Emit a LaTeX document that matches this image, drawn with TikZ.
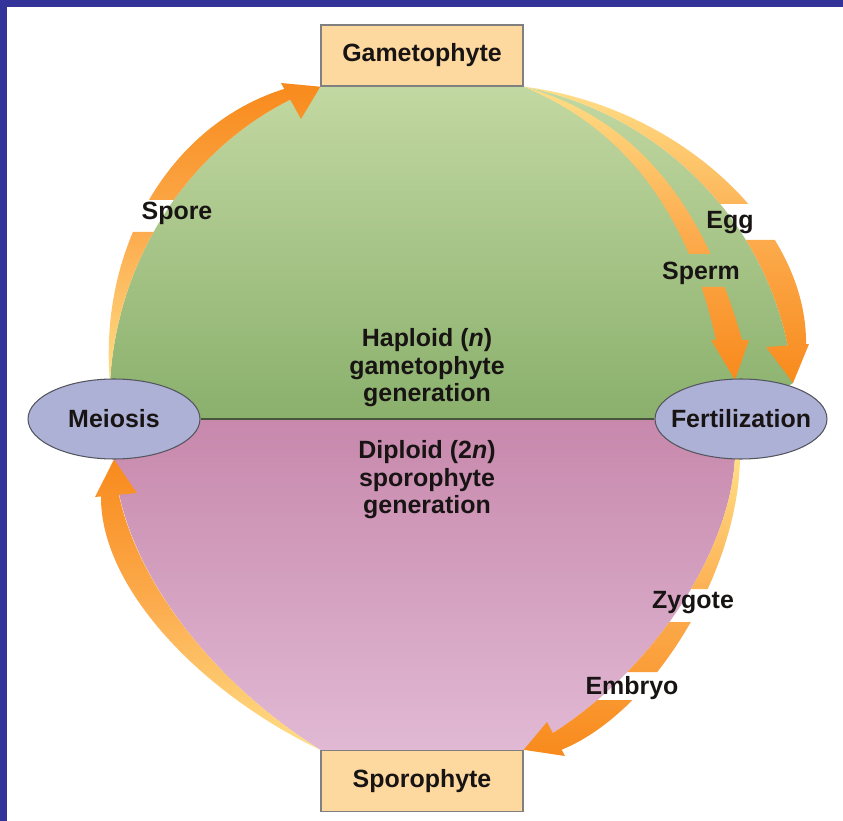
\documentclass[tikz,border=0pt]{standalone}
\usepackage{fontspec}
\setmainfont{Liberation Sans}
\usepackage{xcolor}
\usetikzlibrary{shapes.geometric, positioning}

\definecolor{navy}{RGB}{51,51,153}
\definecolor{boxfill}{RGB}{253,217,160}
\definecolor{boxline}{RGB}{128,128,128}
\definecolor{ovalfill}{RGB}{173,177,214}
\definecolor{ovalline}{RGB}{85,85,95}
\definecolor{greentop}{RGB}{194,216,162}
\definecolor{greenbot}{RGB}{138,176,108}
\definecolor{pinktop}{RGB}{199,136,172}
\definecolor{pinkbot}{RGB}{225,185,212}
\definecolor{arrdark}{RGB}{248,138,28}
\definecolor{arrmid}{RGB}{252,172,78}
\definecolor{arrlight}{RGB}{255,222,135}
\definecolor{inkc}{RGB}{25,20,20}
\definecolor{divline}{RGB}{70,85,60}

\newcommand{\cyclefont}{\fontsize{14.2pt}{15.6pt}\selectfont\bfseries}

\pgfdeclarelayer{regions}
\pgfdeclarelayer{arrows}
\pgfsetlayers{regions,arrows,main}

\begin{document}
\begin{tikzpicture}[x=0.02cm, y=-0.02cm,
        stage/.style={rectangle, draw=boxline, line width=0.8pt, fill=boxfill, minimum width=4.04cm, minimum height=1.22cm, font=\cyclefont, text=inkc},
        phase/.style={ellipse, draw=ovalline, line width=0.6pt, fill=ovalfill, minimum width=3.44cm, minimum height=1.6cm, inner sep=0pt, font=\cyclefont, text=inkc},
        tag/.style={font=\cyclefont, text=inkc, inner sep=0pt},
        gen/.style={font=\cyclefont, text=inkc, align=center, inner sep=0pt},
        toyellow/.style={top color=arrdark, bottom color=arrlight, middle color=arrmid},
        toorange/.style={top color=arrlight, bottom color=arrdark, middle color=arrmid}
    ]
        \useasboundingbox (0,0) rectangle (843,821);

        % Stages
        \node[stage] (gam) at (422,55.5) {Gametophyte};
        \node[stage] (spo) at (422,781) {Sporophyte};
        \node[phase] (meiosis) at (114,419) {\makebox[0pt]{Meiosis}};
        \node[phase] (fert) at (741,419) {\makebox[0pt]{Fertilization}};

        % Generations
        \node[gen] (hap) at (427,368) {Haploid (\textit{n})\\gametophyte\\generation};
        \node[gen] (dip) at (427,480) {Diploid (2\textit{n})\\sporophyte\\generation};

        \begin{pgfonlayer}{regions}
            \fill[white] (0,0) rectangle (843,821);
            \fill[navy] (0,0) rectangle (843,7);
            \fill[navy] (0,0) rectangle (7,821);
            \shade[top color=greentop, bottom color=greenbot]
                (gam.south west) -- (gam.south east) .. controls (669,115) and (781,236) .. (793,383)
                -- (fert.center) -- (meiosis.center) -- (110,383) .. controls (117,252) and (198,132) .. cycle;
            \shade[top color=pinktop, bottom color=pinkbot]
                (meiosis.center) -- (fert.center) -- (735,457) .. controls (730,560) and (640,690) .. (spo.north east)
                -- (spo.north west) .. controls (212,682) and (120,568) .. (114,457) -- cycle;
            \draw[divline, line width=1.1pt] (meiosis) -- (fert);
        \end{pgfonlayer}

        % Arrows
        \begin{pgfonlayer}{arrows}
            % spore
            \begin{scope}
                \clip (0,0) rectangle (843,200) (0,232) rectangle (843,821);
                \shade[toyellow]
                    (110,383) .. controls (98,245) and (172,124) .. (284,89) -- (gam.south west)
                    .. controls (198,132) and (117,252) .. (110,383) -- cycle
                    (281,83) -- (gam.south west) -- (301,119) -- cycle;
            \end{scope}
            % back to meiosis
            \shade[toyellow]
                (spo.north west) .. controls (205,695) and (100,590) .. (101,496) -- (meiosis.south)
                .. controls (120,568) and (212,682) .. (spo.north west) -- cycle
                (95,497) -- (meiosis.south) -- (137,493) -- cycle;
            % egg
            \begin{scope}
                \clip (0,0) rectangle (843,204) (0,240) rectangle (843,821);
                \shade[toorange]
                    (gam.south east) .. controls (678,106) and (808,226) .. (806,345) -- (793,383)
                    .. controls (781,236) and (669,115) .. (gam.south east) -- cycle
                    (809,344) -- (793,383) -- (766,347) -- cycle;
            \end{scope}
            % sperm
            \begin{scope}
                \clip (0,0) rectangle (843,254) (0,287) rectangle (843,821);
                \shade[toorange]
                    (gam.south east) .. controls (625,115) and (700,190) .. (742,340) -- (716,340)
                    .. controls (685,200) and (615,125) .. (gam.south east) -- cycle
                    (749,340) -- (735,380) -- (711,340) -- cycle;
            \end{scope}
            % zygote, embryo
            \begin{scope}
                \clip (0,0) rectangle (843,589) (0,622) rectangle (843,672) (0,700) rectangle (843,821);
                \shade[toorange]
                    (740,455) .. controls (740,568) and (655,712) .. (561,750) -- (spo.north east)
                    .. controls (640,690) and (730,560) .. (735,457) -- cycle
                    (565,756) -- (spo.north east) -- (547,722) -- cycle;
            \end{scope}
        \end{pgfonlayer}

        % Labels
        \node[tag] (spore) at (177,213) {Spore};
        \node[tag] (egg) at (730,223) {Egg};
        \node[tag] (sperm) at (701,273) {Sperm};
        \node[tag] (zyg) at (693,603) {Zygote};
        \node[tag] (emb) at (632,688) {Embryo};

    \end{tikzpicture}
\end{document}
